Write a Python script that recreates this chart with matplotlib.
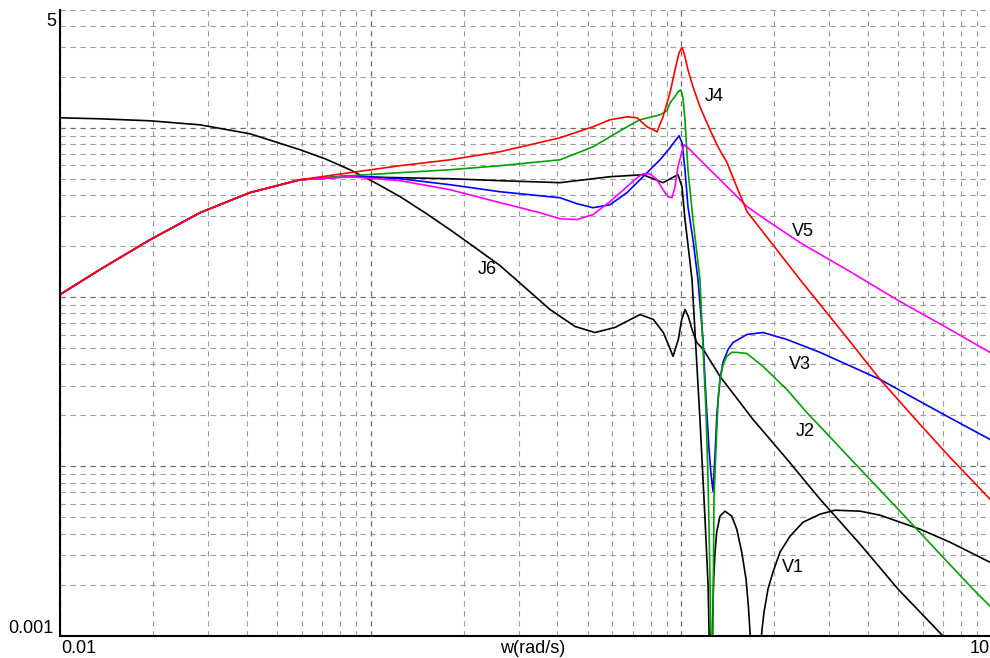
import matplotlib
matplotlib.use("Agg")
import matplotlib.pyplot as plt
from matplotlib.ticker import LogLocator, NullFormatter

plt.rcParams['font.family'] = ['Liberation Sans', 'DejaVu Sans']
plt.rcParams['lines.scale_dashes'] = False

# Low-frequency branch shared by J4, J2, V3, V5 and V1
w_low = [0.01, 0.01345, 0.0195, 0.02824, 0.0409, 0.0593]
mag_low = [0.1034, 0.1453, 0.218, 0.315, 0.414, 0.493]

# J4 (red)
w_j4 = [0.0859, 0.1245, 0.1803, 0.2613, 0.4076, 0.5208, 0.5905, 0.6701, 0.7216,
        0.7770, 0.8371, 0.8750, 0.9217, 0.9566, 0.9853, 1.0074, 1.0226, 1.053,
        1.093, 1.151, 1.240, 1.315, 1.407, 1.515, 1.632, 2.417, 3.502, 4.375,
        5.885, 7.351, 9.89]
mag_j4 = [0.543, 0.597, 0.647, 0.722, 0.873, 1.014, 1.115, 1.161, 1.146,
          1.014, 0.947, 1.161, 1.609, 2.199, 2.770, 2.98, 2.770, 2.199,
          1.746, 1.330, 0.973, 0.772, 0.622, 0.443, 0.3195, 0.1268, 0.0546, 0.0326,
          0.01769, 0.0113, 0.00639]

# J2 (green)
w_j2 = [0.0859, 0.1245, 0.1803, 0.2613, 0.4076, 0.5208, 0.5905, 0.6701, 0.7379,
        0.8559, 0.9014, 0.9217, 0.9566, 0.9779, 1.000, 1.015, 1.030, 1.053, 1.093,
        1.151, 1.177, 1.204, 1.222, 1.240, 1.2535, 1.262, 1.277, 1.303, 1.319,
        1.335, 1.368, 1.404, 1.457, 1.512, 1.628, 1.837, 2.190, 2.540, 2.804,
        3.502, 5.074, 6.825, 8.718, 9.89]
mag_j2 = [0.521, 0.543, 0.565, 0.597, 0.647, 0.772, 0.885, 1.014, 1.115,
          1.193, 1.260, 1.404, 1.531, 1.631, 1.675, 1.500, 1.115, 0.565, 0.287,
          0.1268, 0.0510, 0.0208, 0.00838, 0.00215, 0.0004, 0.0004, 0.00639, 0.0159, 0.0259,
          0.0326, 0.0400, 0.0446, 0.0471, 0.0471, 0.0464, 0.0389, 0.0285, 0.0208, 0.0172,
          0.01114, 0.00543, 0.00303, 0.00188, 0.00149]

# V3 (blue)
w_v3 = [0.0859, 0.1245, 0.1803, 0.2613, 0.4076, 0.4625, 0.5208, 0.5905, 0.6701,
        0.7544, 0.8559, 0.9217, 0.9853, 1.0074, 1.030, 1.053, 1.093, 1.134, 1.177,
        1.204, 1.231, 1.249, 1.268, 1.287, 1.306, 1.335, 1.365, 1.418, 1.471,
        1.632, 1.837, 2.195, 2.804, 4.375, 6.825, 9.89]
mag_v3 = [0.521, 0.500, 0.461, 0.419, 0.386, 0.356, 0.337, 0.351, 0.414,
          0.514, 0.647, 0.762, 0.897, 0.816, 0.565, 0.342, 0.218, 0.1268, 0.0561,
          0.02485, 0.0126, 0.00897, 0.00712, 0.01177, 0.0208, 0.0326, 0.0411, 0.0490, 0.0539,
          0.0601, 0.0617, 0.0561, 0.0471, 0.0326, 0.0208, 0.0144]

# V5 (magenta)
w_v5 = [0.0859, 0.1245, 0.1803, 0.2613, 0.3515, 0.4076, 0.4625, 0.5208, 0.5905,
        0.6701, 0.7216, 0.7544, 0.7947, 0.8371, 0.8750, 0.9081, 0.9354, 0.9566,
        0.9779, 1.0074, 1.0226, 1.053, 1.093, 1.240, 1.407, 1.632, 1.837, 2.417,
        3.502, 5.074, 7.351, 9.89]
mag_v5 = [0.514, 0.487, 0.431, 0.361, 0.315, 0.290, 0.287, 0.307, 0.366,
          0.449, 0.507, 0.535, 0.535, 0.493, 0.431, 0.392, 0.386, 0.449,
          0.589, 0.722, 0.794, 0.762, 0.712, 0.565, 0.449, 0.342, 0.294, 0.2097,
          0.1414, 0.0941, 0.0643, 0.0471]

# V1 (black, notched)
w_v1 = [0.0859, 0.1245, 0.1803, 0.2613, 0.4076, 0.5905, 0.7544, 0.8750, 0.9779,
        1.0074, 1.030, 1.053, 1.085, 1.151, 1.195, 1.222, 1.245, 1.274, 1.287,
        1.303, 1.335, 1.386, 1.457, 1.512, 1.569, 1.620, 1.648, 1.668, 1.744,
        1.820, 1.851, 1.906, 1.978, 2.084, 2.244, 2.471, 2.804, 3.133, 3.771,
        4.375, 5.885, 7.351, 9.89]
mag_v1 = [0.514, 0.507, 0.500, 0.487, 0.474, 0.514, 0.528, 0.474, 0.528,
          0.449, 0.287, 0.204, 0.1268, 0.0189, 0.00487, 0.00201, 0.0004, 0.00215, 0.00311,
          0.00408, 0.00507, 0.00543, 0.00507, 0.00425, 0.00311, 0.00215, 0.00149, 0.00105, 0.0003,
          0.00105, 0.001376, 0.00188, 0.00237, 0.00311, 0.00386, 0.00467, 0.00521, 0.0055, 0.00543,
          0.00514, 0.00425, 0.00356, 0.00271]

# J6 (black)
w_j6 = [0.01, 0.01345, 0.0195, 0.02824, 0.0409, 0.0593, 0.0714, 0.0859, 0.1034,
        0.1245, 0.1498, 0.1803, 0.2171, 0.2613, 0.3145, 0.3785, 0.4557, 0.5284,
        0.6129, 0.7379, 0.8145, 0.8770, 0.9100, 0.9423, 0.9802, 1.0053, 1.030,
        1.056, 1.085, 1.1236, 1.180, 1.335, 1.706, 2.195, 2.804, 3.771, 5.000,
        6.927, 7.92]
mag_j6 = [1.146, 1.130, 1.100, 1.041, 0.922, 0.742, 0.656, 0.565, 0.474,
          0.392, 0.315, 0.250, 0.196, 0.1534, 0.1138, 0.0844, 0.0670, 0.0617,
          0.0661, 0.0788, 0.0737, 0.0617, 0.0525, 0.0446, 0.0561, 0.0737, 0.0844,
          0.0767, 0.0643, 0.0539, 0.0490, 0.0340, 0.0189, 0.0110, 0.00639, 0.00347, 0.00188,
          0.001007, 0.0007]

# Curve labels
label_text = ["J4", "V5", "J6", "V3", "J2", "V1"]
label_w = [1.277, 2.471, 0.2372, 2.417, 2.508, 2.295]
label_mag = [1.523, 0.2434, 0.1453, 0.0400, 0.01609, 0.002535]

fig = plt.figure(figsize=(9.9, 6.58), dpi=100)
ax = fig.add_axes([0.06061, 0.03419, 0.94091, 0.95137])
ax.set_xscale('log')
ax.set_yscale('log')
ax.set_xlim(0.01, 10)
ax.set_ylim(0.001, 5)

ax.xaxis.set_major_locator(LogLocator(base=10))
ax.yaxis.set_major_locator(LogLocator(base=10))
ax.xaxis.set_minor_locator(LogLocator(base=10, subs=range(2, 10)))
ax.yaxis.set_minor_locator(LogLocator(base=10, subs=range(2, 10)))
for axis in (ax.xaxis, ax.yaxis):
    axis.set_major_formatter(NullFormatter())
    axis.set_minor_formatter(NullFormatter())
ax.tick_params(which='both', length=0)

ax.grid(which='major', color='#6a6a6a', linestyle=(0, (3.8, 3.4)), linewidth=0.9)
ax.grid(which='minor', color='#9a9a9a', linestyle=(0, (3.8, 3.4)), linewidth=0.8)
ax.set_axisbelow(True)

for side in ('top', 'right'):
    ax.spines[side].set_visible(False)
for side in ('left', 'bottom'):
    ax.spines[side].set_linewidth(1.5)
    ax.spines[side].set_color('black')

lw = 1.2
ax.plot(w_j6, mag_j6, color='black', lw=lw)
ax.plot(w_low + w_v1, mag_low + mag_v1, color='black', lw=lw)
ax.plot(w_low + w_v3, mag_low + mag_v3, color='#0000ff', lw=lw)
ax.plot(w_low + w_j2, mag_low + mag_j2, color='#00a000', lw=lw)
ax.plot(w_low + w_v5, mag_low + mag_v5, color='#ff00ff', lw=lw)
ax.plot(w_low + w_j4, mag_low + mag_j4, color='#ff0000', lw=lw)

for t, xw, ym in zip(label_text, label_w, label_mag):
    ax.text(xw, ym, t, fontsize=13, ha='center', va='center', color='black')

fs = 13
ax.text(-0.0043, 0.9816, "5", transform=ax.transAxes, ha='right', va='center', fontsize=fs)
ax.text(-0.0075, 0.0104, "0.001", transform=ax.transAxes, ha='right', va='center', fontsize=fs)
ax.text(0.001, -0.02, "0.01", transform=ax.transAxes, ha='left', va='center', fontsize=fs)
ax.text(0.9984, -0.02, "10", transform=ax.transAxes, ha='right', va='center', fontsize=fs)
ax.text(0.5075, -0.02, "w(rad/s)", transform=ax.transAxes, ha='center', va='center', fontsize=fs)

fig.savefig("out.png", dpi=100)
